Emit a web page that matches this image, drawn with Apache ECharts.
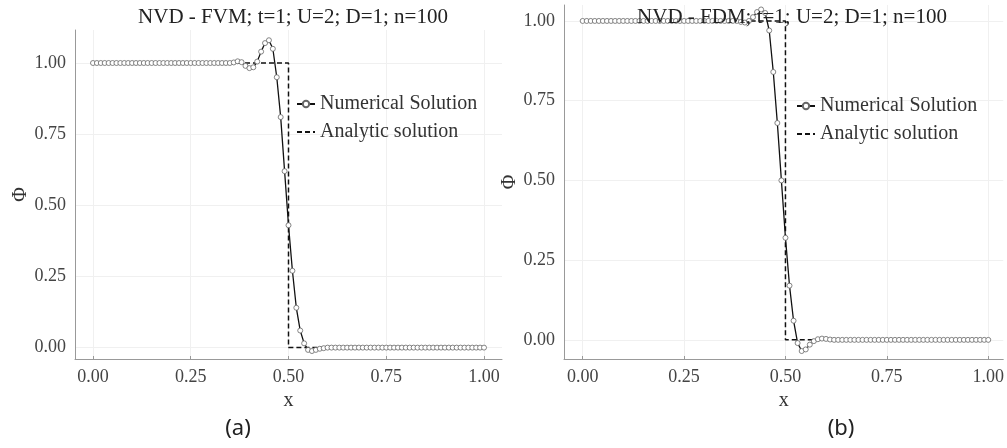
<!DOCTYPE html>
<html>
<head>
<meta charset="utf-8">
<script src="https://cdn.jsdelivr.net/npm/echarts@6/dist/echarts.min.js"></script>
<style>
  html, body { margin: 0; padding: 0; background: #fff; }
  #chart { width: 1007px; height: 448px; }
</style>
</head>
<body>
<div id="chart"></div>
<script>
// n=100 grid nodes, x = 0.00 .. 1.00
const xNodes = [];
for (let i = 0; i <= 100; i++) xNodes.push(i / 100);

const fvmValues = [
  1, 1, 1, 1, 1, 1, 1, 1, 1, 1,
  1, 1, 1, 1, 1, 1, 1, 1, 1, 1,
  1, 1, 1, 1, 1, 1, 1, 1, 1, 1,
  1, 1, 1, 1, 1, 1, 1.002, 1.006, 1.003, 0.99,
  0.982, 0.985, 1.005, 1.04, 1.07, 1.08, 1.05, 0.95, 0.81, 0.62,
  0.43, 0.27, 0.14, 0.06, 0.015, -0.008, -0.012, -0.008, -0.004, -0.002,
  0, 0, 0, 0, 0, 0, 0, 0, 0, 0,
  0, 0, 0, 0, 0, 0, 0, 0, 0, 0,
  0, 0, 0, 0, 0, 0, 0, 0, 0, 0,
  0, 0, 0, 0, 0, 0, 0, 0, 0, 0,
  0
];
const fdmValues = [
  1, 1, 1, 1, 1, 1, 1, 1, 1, 1,
  1, 1, 1, 1, 1, 1, 1, 1, 1, 1,
  1, 1, 1, 1, 1, 1, 1, 1, 1, 1,
  1, 1, 1, 1, 1, 1, 1, 1, 1, 0.997,
  0.995, 1.0, 1.012, 1.028, 1.036, 1.025, 0.97, 0.84, 0.68, 0.5,
  0.32, 0.17, 0.06, -0.01, -0.035, -0.03, -0.015, -0.004, 0.002, 0.004,
  0.003, 0.001, 0, 0, 0, 0, 0, 0, 0, 0,
  0, 0, 0, 0, 0, 0, 0, 0, 0, 0,
  0, 0, 0, 0, 0, 0, 0, 0, 0, 0,
  0, 0, 0, 0, 0, 0, 0, 0, 0, 0,
  0
];
const analyticX = [0, 0.5, 0.5, 1];
const analyticY = [1, 1, 0, 0];
const tickValues = [0, 0.25, 0.5, 0.75, 1];
const titles = ["NVD - FVM; t=1; U=2; D=1; n=100", "NVD - FDM; t=1; U=2; D=1; n=100"];
const panelLabels = ["(a)", "(b)"];

const pair = (xs, ys) => xs.map((x, i) => [x, ys[i]]);

const serif = "Liberation Serif";
const chart = echarts.init(document.getElementById("chart"));

function xAxisOf(gridIndex, min, max) {
  return {
    type: "value", gridIndex: gridIndex, min: min, max: max,
    name: "x", nameLocation: "middle", nameGap: 28,
    nameTextStyle: { fontFamily: serif, fontSize: 20, color: "#333" },
    axisLine: { show: true, onZero: false, lineStyle: { color: "#999", width: 1 } },
    axisTick: { show: true, inside: true, length: 3, customValues: tickValues, lineStyle: { color: "#999" } },
    axisLabel: { customValues: tickValues, fontFamily: serif, fontSize: 18, color: "#444", margin: 9,
      formatter: v => v.toFixed(2) },
    splitLine: { show: true, lineStyle: { color: "#f0f0f0" } }
  };
}
function yAxisOf(gridIndex, min, max) {
  return {
    type: "value", gridIndex: gridIndex, min: min, max: max,
    name: "Φ", nameLocation: "middle", nameGap: 30, nameRotate: 90,
    nameTextStyle: { fontFamily: serif, fontSize: 20, color: "#333" },
    axisLine: { show: true, onZero: false, lineStyle: { color: "#999", width: 1 } },
    axisTick: { show: false, customValues: tickValues },
    axisLabel: { customValues: tickValues, fontFamily: serif, fontSize: 18, color: "#444", margin: 9,
      formatter: v => v.toFixed(2) },
    splitLine: { show: true, lineStyle: { color: "#f0f0f0" } }
  };
}
function numSeries(idx, values) {
  return {
    name: "Numerical Solution", type: "line", xAxisIndex: idx, yAxisIndex: idx,
    data: pair(xNodes, values), showAllSymbol: true, symbol: "circle", symbolSize: 5,
    lineStyle: { color: "#111", width: 1.3 },
    itemStyle: { color: "#fff", borderColor: "#666", borderWidth: 0.8 },
    z: 3
  };
}
function anaSeries(idx) {
  return {
    name: "Analytic solution", type: "line", xAxisIndex: idx, yAxisIndex: idx,
    data: pair(analyticX, analyticY), symbol: "none",
    lineStyle: { color: "#111", width: 1.5, type: [5, 3] },
    itemStyle: { color: "#111" }, z: 2
  };
}
function legendOf(left, top) {
  return {
    left: left, top: top, orient: "vertical", itemGap: 8, itemWidth: 18, itemHeight: 8,
    textStyle: { fontFamily: serif, fontSize: 20, color: "#333" },
    data: [
      { name: "Numerical Solution" },
      { name: "Analytic solution", itemStyle: { color: "transparent", borderWidth: 0 } }
    ]
  };
}

const options = {
  animation: false,
  title: [
    { text: titles[0], left: 288, top: 2, textAlign: "center",
      textStyle: { fontFamily: serif, fontSize: 21, fontWeight: "normal", color: "#222" } },
    { text: titles[1], left: 787, top: 2, textAlign: "center",
      textStyle: { fontFamily: serif, fontSize: 21, fontWeight: "normal", color: "#222" } },
    { text: panelLabels[0], left: 233, top: 413, textAlign: "center",
      textStyle: { fontFamily: "Noto Sans", fontSize: 22, fontWeight: "normal", color: "#222" } },
    { text: panelLabels[1], left: 836, top: 413, textAlign: "center",
      textStyle: { fontFamily: "Noto Sans", fontSize: 22, fontWeight: "normal", color: "#222" } }
  ],
  legend: [legendOf(291, 89), legendOf(791, 91)],
  grid: [
    { left: 75, top: 30, width: 427, height: 329 },
    { left: 564, top: 5, width: 440, height: 354 }
  ],
  xAxis: [xAxisOf(0, -0.046, 1.046), xAxisOf(1, -0.046, 1.037)],
  yAxis: [yAxisOf(0, -0.04, 1.116), yAxisOf(1, -0.06, 1.05)],
  series: [numSeries(0, fvmValues), anaSeries(0), numSeries(1, fdmValues), anaSeries(1)]
};
chart.setOption(options, true);
</script>
</body>
</html>
